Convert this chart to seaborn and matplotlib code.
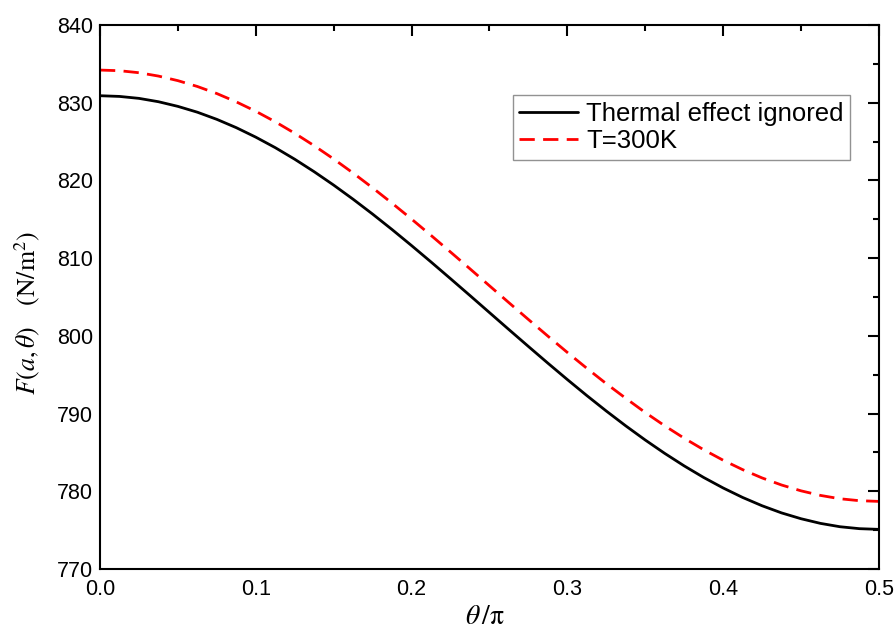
import numpy as np
import pandas as pd
import matplotlib
matplotlib.use("Agg")
import matplotlib.pyplot as plt
import seaborn as sns
from matplotlib.ticker import MultipleLocator

theta = [0.0, 0.0125, 0.025, 0.0375, 0.05, 0.0625, 0.075, 0.0875, 0.1, 0.1125,
         0.125, 0.1375, 0.15, 0.1625, 0.175, 0.1875, 0.2, 0.2125, 0.225, 0.2375,
         0.25, 0.2625, 0.275, 0.2875, 0.3, 0.3125, 0.325, 0.3375, 0.35, 0.3625,
         0.375, 0.3875, 0.4, 0.4125, 0.425, 0.4375, 0.45, 0.4625, 0.475, 0.4875, 0.5]
f_ignored = [830.9, 830.81, 830.56, 830.13, 829.53, 828.78, 827.86, 826.79, 825.57, 824.22,
             822.73, 821.12, 819.40, 817.58, 815.67, 813.68, 811.62, 809.51, 807.36, 805.19,
             803.0, 800.81, 798.64, 796.49, 794.38, 792.32, 790.33, 788.42, 786.60, 784.88,
             783.27, 781.78, 780.43, 779.21, 778.14, 777.22, 776.47, 775.87, 775.44, 775.19, 775.1]
f_300k = [834.2, 834.12, 833.86, 833.43, 832.84, 832.09, 831.18, 830.11, 828.90, 827.55,
          826.07, 824.47, 822.76, 820.95, 819.05, 817.07, 815.03, 812.93, 810.79, 808.63,
          806.45, 804.27, 802.11, 799.97, 797.87, 795.83, 793.85, 791.97, 790.14, 788.43,
          786.83, 785.35, 784.00, 782.79, 781.72, 780.81, 780.06, 779.47, 779.04, 778.79, 778.7]
series_names = ["Thermal effect ignored", "T=300K"]

sns.set_style("white")
plt.rcParams['font.family'] = ['Liberation Sans', 'DejaVu Sans']
plt.rcParams['mathtext.fontset'] = 'stix'
plt.rcParams['text.color'] = 'black'
plt.rcParams['axes.labelcolor'] = 'black'

df = pd.DataFrame({
    "theta": theta * 2,
    "F": f_ignored + f_300k,
    "series": [series_names[0]] * len(theta) + [series_names[1]] * len(theta),
})

fig = plt.figure(figsize=(8.95, 6.33), dpi=100)
ax = fig.add_axes([0.1117, 0.1011, 0.8703, 0.8594])

sns.lineplot(data=df, x="theta", y="F", hue="series", style="series",
             palette={series_names[0]: "black", series_names[1]: "red"},
             dashes={series_names[0]: "", series_names[1]: (5.5, 3.0)},
             linewidth=2.0, ax=ax)

ax.set_xlim(0, 0.5)
ax.set_ylim(770, 840)
ax.xaxis.set_major_locator(MultipleLocator(0.1))
ax.xaxis.set_minor_locator(MultipleLocator(0.05))
ax.yaxis.set_major_locator(MultipleLocator(10))
ax.yaxis.set_minor_locator(MultipleLocator(5))
ax.xaxis.set_major_formatter(matplotlib.ticker.FormatStrFormatter('%.1f'))
ax.tick_params(which='both', direction='in', top=True, right=True, width=1.5,
               colors='black', labelsize=15.5)
ax.tick_params(which='major', length=8)
ax.tick_params(which='minor', length=4.5)
ax.tick_params(axis='x', pad=7)
ax.tick_params(axis='y', pad=5)
for s in ax.spines.values():
    s.set_color('black')
    s.set_linewidth(1.5)

ax.set_xlabel(r'$\theta\,/\mathrm{\pi}$', fontsize=20, color='black')
ax.xaxis.set_label_coords(0.494, -0.065)
ax.set_ylabel(r'$F(a,\theta)$   $\mathrm{(N/m^2)}$', fontsize=18.5, color='black')
ax.yaxis.set_label_coords(-0.074, 0.47)

leg = ax.legend(loc='upper left', bbox_to_anchor=(0.530, 0.871), fontsize=18.5,
                frameon=True, fancybox=False, handlelength=2.3, handletextpad=0.3,
                borderpad=0.25, labelspacing=0.15, borderaxespad=0, labelcolor='black')
leg.get_frame().set_edgecolor('#777777')
leg.get_frame().set_linewidth(1.0)

fig.savefig("out.png", dpi=100)
